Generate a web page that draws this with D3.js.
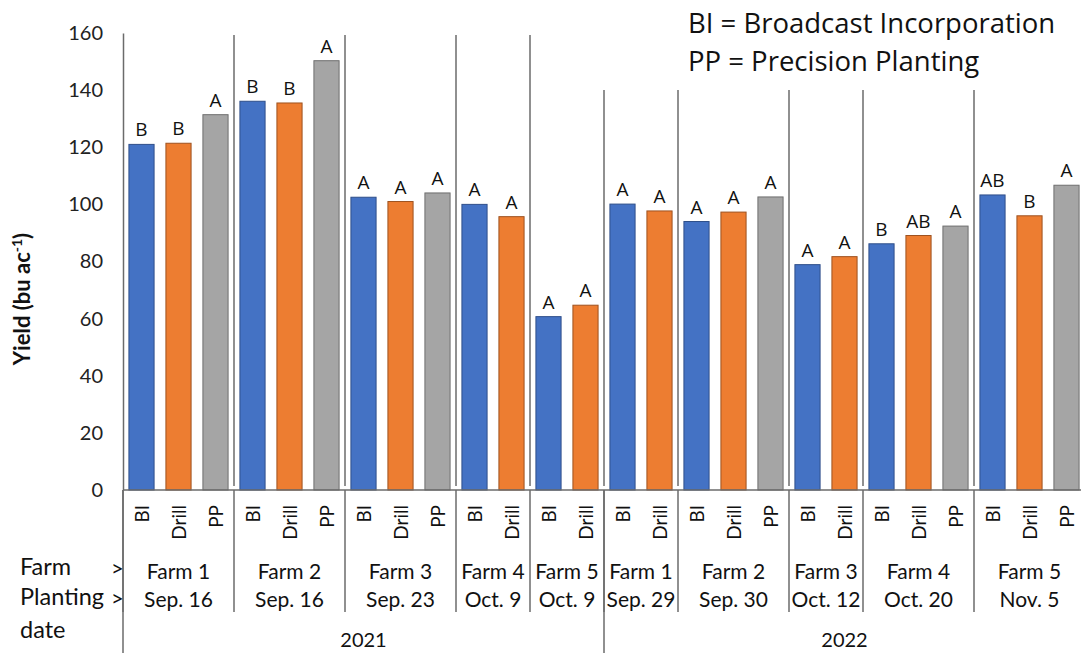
<!DOCTYPE html>
<html><head><meta charset="utf-8">
<script src="https://cdn.jsdelivr.net/npm/d3@7"></script>
<style>body{margin:0;background:#fff}svg{display:block}</style>
</head><body>
<svg id="c" width="1081" height="653"></svg>
<script>
// ---- data ----
const treatments = ["BI","Drill","PP","BI","Drill","PP","BI","Drill","PP","BI","Drill","BI","Drill",
                    "BI","Drill","BI","Drill","PP","BI","Drill","BI","Drill","PP","BI","Drill","PP"];
const groupIndex = [0,0,0,1,1,1,2,2,2,3,3,4,4,5,5,6,6,6,7,7,8,8,8,9,9,9];
const farms = ["Farm 1","Farm 2","Farm 3","Farm 4","Farm 5","Farm 1","Farm 2","Farm 3","Farm 4","Farm 5"];
const dates = ["Sep. 16","Sep. 16","Sep. 23","Oct. 9","Oct. 9","Sep. 29","Sep. 30","Oct. 12","Oct. 20","Nov. 5"];
const groupYear = ["2021","2021","2021","2021","2021","2022","2022","2022","2022","2022"];
const years = ["2021","2022"];
const yields = [121.0,121.4,131.4, 136.1,135.5,150.3, 102.5,101.0,104.0, 100.0,95.7, 60.7,64.7,
                100.1,97.7, 94.0,97.3,102.6, 78.9,81.7, 86.2,89.1,92.4, 103.3,96.0,106.7];
const letters = ["B","B","A","B","B","A","A","A","A","A","A","A","A",
                 "A","A","A","A","A","A","A","B","AB","A","AB","B","A"];
const yTicks = [0,20,40,60,80,100,120,140,160];
const colors = {BI:"#4472C4", Drill:"#ED7D31", PP:"#A5A5A5"};
const strokes = {BI:"#2F4F8A", Drill:"#9E5220", PP:"#6E6E6E"};
const notes = ["BI = Broadcast Incorporation","PP = Precision Planting"];

(function(){
// ---- layout ----
const svg = d3.select("#c");
const pL = 123, pR = 1085, pT = 33, pB = 490;
const ids = d3.range(treatments.length);
const x = d3.scaleBand().domain(ids).range([pL, pR]).paddingInner(0.32).paddingOuter(0.16);
const y = d3.scaleLinear().domain([0,160]).range([pB, pT]);
const step = x.step();
const bandStart = i => x(i) - step*x.paddingInner()/2;
const FONT = "Lato, 'Open Sans', sans-serif";
const lineCol = "#6b6b6b";

const groups = farms.map((f,g)=>{
  const idx = ids.filter(i=>groupIndex[i]===g);
  return {g, x0: bandStart(idx[0]), x1: bandStart(idx[idx.length-1]) + step};
});
const yearExt = years.map(yr=>{
  const gs = groups.filter(d=>groupYear[d.g]===yr);
  return {yr, x0: gs[0].x0, x1: gs[gs.length-1].x1};
});

// y axis
const yAxis = d3.axisLeft(y).tickValues(yTicks).tickSize(0).tickPadding(20);
const ya = svg.append("g").attr("transform",`translate(${pL},0)`).call(yAxis);
ya.select(".domain").attr("stroke", lineCol).attr("stroke-width",1.5);
ya.selectAll("text").attr("font-family",FONT).attr("font-size",20).attr("fill","#222");

// divider lines within plot
groups.forEach((d,k)=>{
  if(k===0) return;
  const t = groupYear[d.g]==="2021" ? 35 : 90;
  svg.append("line").attr("x1",d.x0).attr("x2",d.x0).attr("y1",t).attr("y2",pB-4)
    .attr("stroke",lineCol).attr("stroke-width",1.5);
});

// bars
svg.append("g").selectAll("rect").data(ids).join("rect")
  .attr("x", i=>x(i)).attr("width", x.bandwidth())
  .attr("y", i=>y(yields[i])).attr("height", i=>y(0)-y(yields[i]))
  .attr("fill", i=>colors[treatments[i]])
  .attr("stroke", i=>strokes[treatments[i]]).attr("stroke-width",1);

// letters
svg.append("g").selectAll("text").data(ids).join("text")
  .attr("x", i=>x(i)+x.bandwidth()/2).attr("y", i=>y(yields[i])-8)
  .attr("text-anchor","middle").attr("font-family","'Open Sans', sans-serif").attr("font-size",19)
  .attr("fill","#111").text(i=>letters[i]);

// x axis baseline
svg.append("line").attr("x1",pL).attr("x2",pR).attr("y1",pB).attr("y2",pB)
  .attr("stroke",lineCol).attr("stroke-width",1.5);

// treatment labels (rotated)
svg.append("g").selectAll("text").data(ids).join("text")
  .attr("transform", i=>`translate(${x(i)+x.bandwidth()/2},505) rotate(-90)`)
  .attr("text-anchor","end").attr("dominant-baseline","central")
  .attr("font-family",FONT).attr("font-size",19).attr("fill","#111")
  .text(i=>treatments[i]);

// group dividers below axis
groups.forEach(d=>{
  svg.append("line").attr("x1",d.x0).attr("x2",d.x0).attr("y1",pB).attr("y2",612)
    .attr("stroke",lineCol).attr("stroke-width",1.5);
});
yearExt.forEach(d=>{
  svg.append("line").attr("x1",d.x0).attr("x2",d.x0).attr("y1",pB).attr("y2",653)
    .attr("stroke",lineCol).attr("stroke-width",1.5);
});

// farm / date labels
groups.forEach(d=>{
  const cx=(d.x0+d.x1)/2;
  svg.append("text").attr("x",cx).attr("y",579).attr("text-anchor","middle")
    .attr("font-family",FONT).attr("font-size",21).attr("fill","#111").text(farms[d.g]);
  svg.append("text").attr("x",cx).attr("y",607).attr("text-anchor","middle")
    .attr("font-family",FONT).attr("font-size",21).attr("fill","#111").text(dates[d.g]);
});
yearExt.forEach(d=>{
  svg.append("text").attr("x",(d.x0+d.x1)/2).attr("y",647).attr("text-anchor","middle")
    .attr("font-family",FONT).attr("font-size",20).attr("fill","#111").text(d.yr);
});

// left labels
const ll = [["Farm",575],["Planting",605],["date",638]];
ll.forEach(([t,yy])=>svg.append("text").attr("x",20).attr("y",yy)
  .attr("font-family",FONT).attr("font-size",23.5).attr("fill","#111").text(t));
svg.append("text").attr("x",111).attr("y",576).attr("font-family",FONT).attr("font-size",22).attr("fill","#111").text(">");
svg.append("text").attr("x",111).attr("y",606).attr("font-family",FONT).attr("font-size",22).attr("fill","#111").text(">");

// y title
const yt = svg.append("text").attr("transform","translate(30,299) rotate(-90)")
  .attr("text-anchor","middle").attr("font-family",FONT).attr("font-weight","bold")
  .attr("font-size",22).attr("fill","#111");
yt.append("tspan").text("Yield (bu ac");
yt.append("tspan").attr("font-size",14).attr("dy",-8).text("-1");
yt.append("tspan").attr("dy",8).text(")");

// notes
notes.forEach((t,k)=>svg.append("text").attr("x",688).attr("y",33+k*38)
  .attr("font-family","'Open Sans', sans-serif").attr("font-size",27.5).attr("fill","#111").text(t));
})();
</script>
</body></html>
